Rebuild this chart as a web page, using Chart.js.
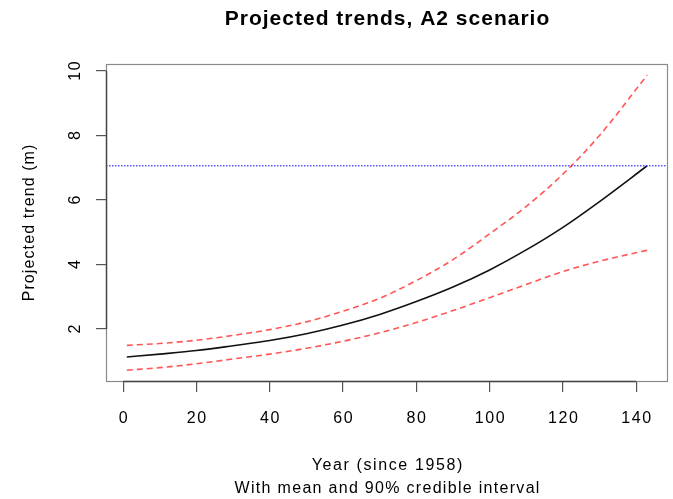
<!DOCTYPE html>
<html>
<head>
<meta charset="utf-8">
<script src="https://cdn.jsdelivr.net/npm/chart.js@4/dist/chart.umd.min.js"></script>
<style>
  html, body { margin: 0; padding: 0; background: #fff; }
  #wrap { width: 673px; height: 499px; position: relative; }
</style>
</head>
<body>
<div id="wrap"><canvas id="chart"></canvas></div>
<script>
// ─── DATA ────────────────────────────────────────────────────
const years = [1, 10, 20, 30, 40, 50, 60, 70, 80, 90, 100, 110, 120, 130, 143];
const meanTrend  = [1.13, 1.22, 1.33, 1.48, 1.64, 1.85, 2.12, 2.45, 2.85, 3.30, 3.83, 4.45, 5.15, 5.95, 7.06];
const upperTrend = [1.49, 1.55, 1.65, 1.80, 1.98, 2.22, 2.55, 2.95, 3.50, 4.15, 4.95, 5.80, 6.80, 8.00, 9.87];
const lowerTrend = [0.72, 0.80, 0.92, 1.07, 1.22, 1.40, 1.62, 1.88, 2.20, 2.57, 2.97, 3.38, 3.78, 4.10, 4.44];
const thresholdLevel = 7.06;
const xTicks = [0, 20, 40, 60, 80, 100, 120, 140];
const yTicks = [2, 4, 6, 8, 10];

const FONT = "'Liberation Sans', Arial, Helvetica, sans-serif";
const pts = arr => years.map((x, i) => ({ x, y: arr[i] }));

// centred text with letter spacing (canvas adds spacing after the last glyph too)
function spaced(ctx, text, x, y, sp) {
  ctx.letterSpacing = sp + 'px';
  ctx.fillText(text, x + sp / 2, y);
  ctx.letterSpacing = '0px';
}

// R-style box, axis lines, labels and abline
const rStyle = {
  id: 'rStyle',
  afterDraw(chart) {
    const { ctx, chartArea: a, scales: { x, y } } = chart;
    ctx.save();

    // horizontal dotted reference line
    const yy = y.getPixelForValue(thresholdLevel);
    ctx.strokeStyle = 'rgba(40,40,255,0.8)';
    ctx.lineWidth = 1.3;
    ctx.setLineDash([1.5, 1.5]);
    ctx.beginPath();
    ctx.moveTo(a.left, yy);
    ctx.lineTo(a.right, yy);
    ctx.stroke();
    ctx.setLineDash([]);

    // box
    ctx.strokeStyle = '#8a8a8a';
    ctx.lineWidth = 1.2;
    ctx.strokeRect(a.left + 0.5, a.top + 0.5, a.right - a.left - 1, a.bottom - a.top - 1);

    // axis lines from first to last tick
    ctx.strokeStyle = '#444';
    ctx.lineWidth = 1.4;
    ctx.beginPath();
    ctx.moveTo(x.getPixelForValue(xTicks[0]), a.bottom - 0.5);
    ctx.lineTo(x.getPixelForValue(xTicks[xTicks.length - 1]), a.bottom - 0.5);
    ctx.moveTo(a.left + 0.5, y.getPixelForValue(yTicks[0]));
    ctx.lineTo(a.left + 0.5, y.getPixelForValue(yTicks[yTicks.length - 1]));
    ctx.stroke();

    ctx.fillStyle = '#000';
    ctx.font = '16px ' + FONT;
    ctx.textAlign = 'center';
    ctx.textBaseline = 'middle';
    xTicks.forEach(v => spaced(ctx, String(v), x.getPixelForValue(v), 419, 1.6));
    yTicks.forEach(v => {
      ctx.save();
      ctx.translate(76, y.getPixelForValue(v));
      ctx.rotate(-Math.PI / 2);
      spaced(ctx, String(v), 0, 0, 1.6);
      ctx.restore();
    });

    const cx = (a.left + a.right) / 2;
    spaced(ctx, 'Year (since 1958)', cx, 466, 1.6);
    spaced(ctx, 'With mean and 90% credible interval', cx, 489, 1.3);

    ctx.save();
    ctx.translate(30, (a.top + a.bottom) / 2);
    ctx.rotate(-Math.PI / 2);
    spaced(ctx, 'Projected trend (m)', 0, 0, 1.1);
    ctx.restore();

    ctx.font = 'bold 21px ' + FONT;
    spaced(ctx, 'Projected trends, A2 scenario', cx, 19, 1);
    ctx.restore();
  }
};

new Chart(document.getElementById('chart'), {
  type: 'line',
  data: {
    datasets: [
      {
        label: 'Mean',
        data: pts(meanTrend),
        borderColor: '#111',
        borderWidth: 1.6,
        pointRadius: 0,
        cubicInterpolationMode: 'monotone',
      },
      {
        label: 'Upper 95%',
        data: pts(upperTrend),
        borderColor: 'rgba(255,30,30,0.75)',
        borderWidth: 1.6,
        borderDash: [6, 4],
        pointRadius: 0,
        cubicInterpolationMode: 'monotone',
      },
      {
        label: 'Lower 5%',
        data: pts(lowerTrend),
        borderColor: 'rgba(255,30,30,0.75)',
        borderWidth: 1.6,
        borderDash: [6, 4],
        pointRadius: 0,
        cubicInterpolationMode: 'monotone',
      }
    ]
  },
  options: {
    responsive: true,
    maintainAspectRatio: false,
    animation: false,
    layout: { padding: { top: 64, right: 5, left: 0, bottom: 0 } },
    plugins: { legend: { display: false }, tooltip: { enabled: false } },
    scales: {
      x: {
        type: 'linear',
        min: -4.68,
        max: 148.68,
        afterBuildTicks: s => { s.ticks = xTicks.map(v => ({ value: v })); },
        afterFit: s => { s.height = 117; },
        ticks: { display: false },
        border: { display: false },
        grid: { drawOnChartArea: false, drawTicks: true, tickLength: 10, color: '#555', lineWidth: 1.2 },
      },
      y: {
        type: 'linear',
        min: 0.355,
        max: 10.215,
        afterBuildTicks: s => { s.ticks = yTicks.map(v => ({ value: v })); },
        afterFit: s => { s.width = 106; },
        ticks: { display: false },
        border: { display: false },
        grid: { drawOnChartArea: false, drawTicks: true, tickLength: 10, color: '#555', lineWidth: 1.2 },
      }
    }
  },
  plugins: [rStyle]
});
</script>
</body>
</html>
